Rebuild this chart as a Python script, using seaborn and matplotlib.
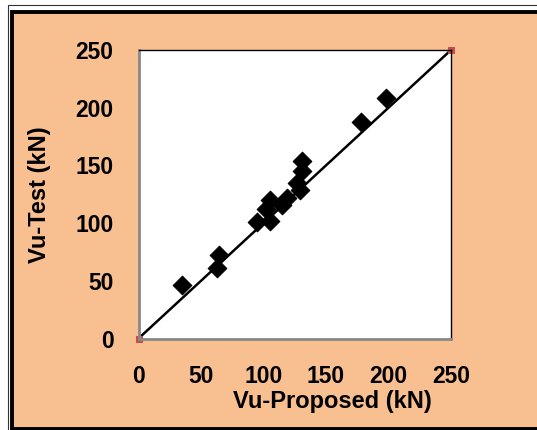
import matplotlib
matplotlib.use("Agg")
import matplotlib.pyplot as plt
import seaborn as sns
import pandas as pd
from matplotlib.patches import Rectangle

# ── Data ──────────────────────────────────────────────────────────────────────
vu_proposed = [35, 64, 63, 95, 105, 102, 105, 115, 119, 127, 129, 131, 131, 178, 198]
vu_test = [46, 72, 61, 101, 102, 112, 120, 116, 122, 135, 129, 145, 154, 188, 208]
line_x = [0, 250]
line_y = [0, 250]
ticks = [0, 50, 100, 150, 200, 250]

df = pd.DataFrame({"proposed": vu_proposed, "test": vu_test})

sns.set_style("white")
plt.rcParams["font.family"] = ["Liberation Sans", "DejaVu Sans"]
plt.rcParams["font.weight"] = "bold"

orange = "#F8BF90"
W, H = 537, 430
fig = plt.figure(figsize=(W / 100, H / 100), dpi=100, facecolor="white")

# outer chart-area frame (Excel style), kept behind the axes
fig.patches.append(Rectangle((12 / W, 1.5 / H), 540 / W, 417 / H,
                             transform=fig.transFigure, facecolor=orange,
                             edgecolor="black", linewidth=2.8, zorder=-10))
fig.patches.append(Rectangle((8 / W, -5 / H), 545 / W, 430 / H,
                             transform=fig.transFigure, facecolor="none",
                             edgecolor="#333333", linewidth=0.8, zorder=-10))

ax = fig.add_axes([138.5 / W, 1 - 338.5 / H, 312.5 / W, 288.5 / H])
ax.set_facecolor("white")

# 1:1 line with small red end markers
sns.lineplot(x=line_x, y=line_y, ax=ax, color="black", linewidth=1.8,
             marker="s", markersize=5, markerfacecolor="#C0504D",
             markeredgecolor="#C0504D", zorder=2, clip_on=False)
sns.scatterplot(data=df, x="proposed", y="test", ax=ax, marker="D",
                color="black", edgecolor="black", s=90, zorder=3)

ax.set_xlim(0, 250)
ax.set_ylim(0, 250)
ax.set_xticks(ticks)
ax.set_yticks(ticks)
ax.tick_params(axis="both", length=0, labelsize=16.5, labelcolor="black")
ax.tick_params(axis="x", pad=19)
ax.tick_params(axis="y", pad=18)

ax.set_xlabel("Vu-Proposed (kN)", fontsize=17, color="black", fontweight="bold")
ax.set_ylabel("Vu-Test (kN)", fontsize=17, color="black", fontweight="bold")
ax.xaxis.set_label_coords(0.619, -0.178)
ax.yaxis.set_label_coords(-0.28, 0.5)

for side in ["left", "bottom"]:
    ax.spines[side].set_color("#888888")
    ax.spines[side].set_linewidth(2)
for side in ["top", "right"]:
    ax.spines[side].set_color("black")
    ax.spines[side].set_linewidth(1)

fig.savefig("out.png", dpi=100, facecolor=fig.get_facecolor())
